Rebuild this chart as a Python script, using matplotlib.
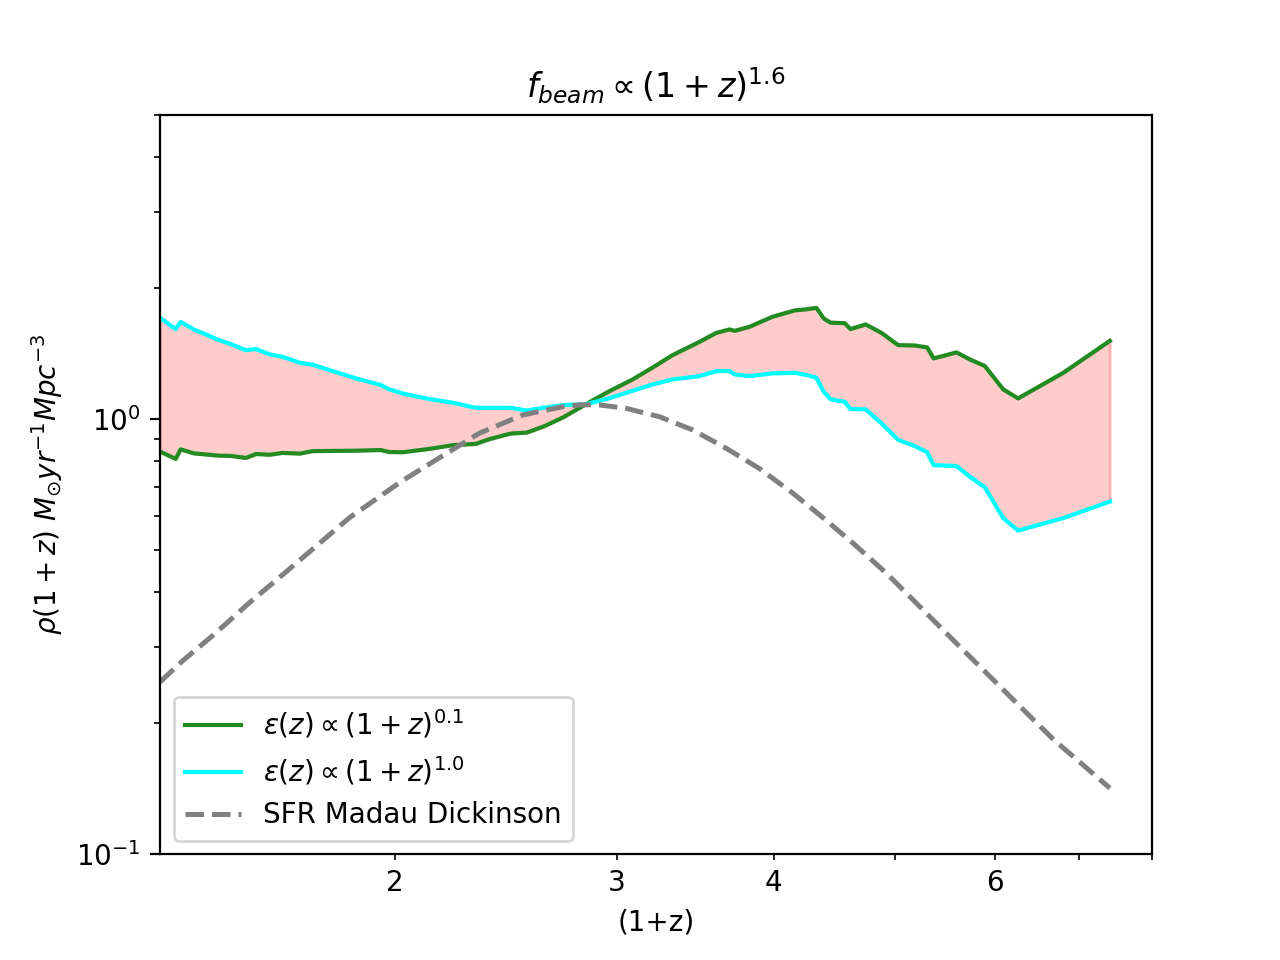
import numpy as np
import matplotlib
matplotlib.use('Agg')
import matplotlib.pyplot as plt
from matplotlib import ticker

# (1+z) grid shared by the two emissivity curves
one_plus_z = [1.300, 1.338, 1.350, 1.383, 1.448, 1.480, 1.521, 1.550, 1.590, 1.627,
              1.680, 1.719, 1.861, 1.948, 1.978, 2.027, 2.129, 2.222, 2.318, 2.376,
              2.470, 2.545, 2.630, 2.720, 2.838, 2.960, 3.090, 3.206, 3.325, 3.493,
              3.601, 3.690, 3.725, 3.828, 3.990, 4.160, 4.250, 4.326, 4.385, 4.440,
              4.557, 4.605, 4.735, 4.874, 5.025, 5.181, 5.300, 5.362, 5.592, 5.730,
              5.890, 6.091, 6.260, 6.800, 7.406]

rho_eps01 = [0.843, 0.811, 0.853, 0.835, 0.825, 0.824, 0.815, 0.832, 0.829, 0.837,
             0.834, 0.845, 0.847, 0.850, 0.841, 0.840, 0.855, 0.872, 0.878, 0.900,
             0.927, 0.932, 0.965, 1.010, 1.084, 1.160, 1.235, 1.316, 1.405, 1.507,
             1.580, 1.609, 1.597, 1.632, 1.720, 1.780, 1.790, 1.804, 1.705, 1.668,
             1.663, 1.612, 1.652, 1.580, 1.481, 1.478, 1.463, 1.380, 1.425, 1.373,
             1.326, 1.172, 1.117, 1.279, 1.515]

rho_eps10 = [1.711, 1.612, 1.675, 1.609, 1.521, 1.489, 1.442, 1.450, 1.410, 1.392,
             1.349, 1.335, 1.242, 1.199, 1.172, 1.147, 1.113, 1.092, 1.063, 1.063,
             1.063, 1.048, 1.064, 1.078, 1.084, 1.118, 1.163, 1.203, 1.235, 1.257,
             1.291, 1.291, 1.268, 1.257, 1.275, 1.279, 1.264, 1.246, 1.157, 1.112,
             1.097, 1.056, 1.054, 0.979, 0.897, 0.868, 0.840, 0.785, 0.781, 0.738,
             0.698, 0.593, 0.555, 0.593, 0.647]

# Madau & Dickinson SFR curve
sfr_x = [1.300, 1.354, 1.440, 1.530, 1.627, 1.729, 1.838, 2.021, 2.333, 2.526,
         2.718, 2.810, 2.907, 3.053, 3.245, 3.450, 3.667, 3.899, 4.145, 4.352,
         4.627, 4.918, 5.229, 5.557, 5.908, 6.280, 6.675, 7.406]
sfr_y = [0.249, 0.278, 0.323, 0.378, 0.439, 0.510, 0.593, 0.719, 0.929, 1.023,
         1.069, 1.080, 1.079, 1.060, 1.014, 0.945, 0.858, 0.770, 0.676, 0.603,
         0.519, 0.443, 0.371, 0.311, 0.261, 0.219, 0.184, 0.142]

plt.figure(figsize=(6.4, 4.8), dpi=200)
plt.fill_between(one_plus_z, rho_eps01, rho_eps10, color='red', alpha=0.2)
plt.loglog(one_plus_z, rho_eps01, color='forestgreen', label=r'$\epsilon(z) \propto (1+z)^{0.1}$')
plt.loglog(one_plus_z, rho_eps10, color='cyan', label=r'$\epsilon(z) \propto (1+z)^{1.0}$')
plt.loglog(sfr_x, sfr_y, '--', color='gray', linewidth=1.8, label='SFR Madau Dickinson')
plt.xlim(1.3, 8)
plt.ylim(0.1, 5)

ax = plt.gca()
shown = [2, 3, 4, 6]
ax.xaxis.set_minor_formatter(ticker.FuncFormatter(
    lambda v, pos: '%d' % round(v) if any(abs(v - s) < 1e-6 for s in shown) else ''))

plt.xlabel('(1+z)')
plt.ylabel(r'$\rho (1+z)\ M_{\odot} yr^{-1} Mpc^{-3}$')
plt.title(r'$f_{beam} \propto (1+z)^{1.6}$')
plt.legend(loc='lower left')
plt.savefig('out.png', dpi=200)
